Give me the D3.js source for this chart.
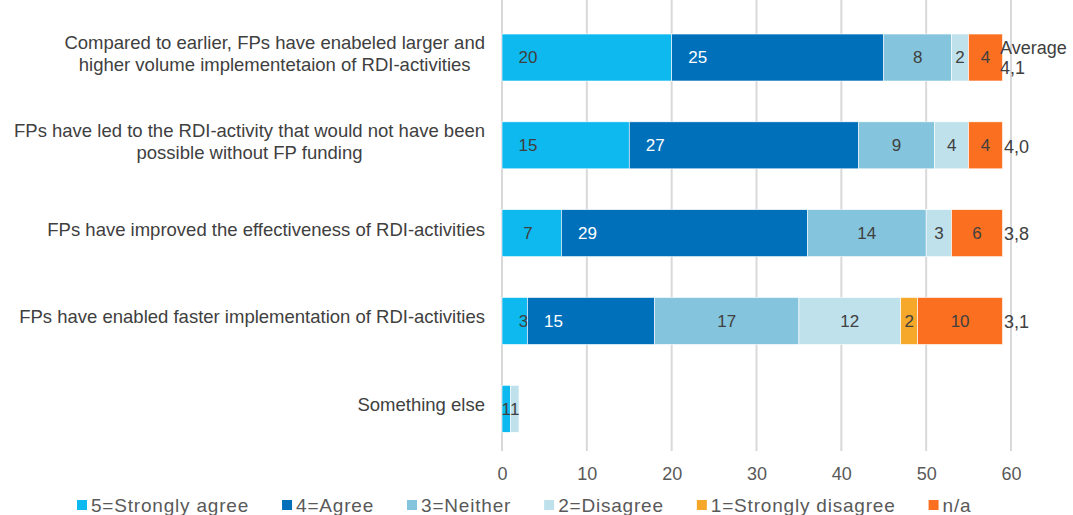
<!DOCTYPE html>
<html><head><meta charset="utf-8">
<script src="https://cdn.jsdelivr.net/npm/d3@7"></script>
<style>
html,body{margin:0;padding:0;background:#fff;}
svg{display:block;font-family:"Liberation Sans",Arial,sans-serif;}
</style></head>
<body><svg id="c" width="1073" height="515"></svg>
<script>
const categories = [
  ["Compared to earlier, FPs have enabeled larger and", "higher volume implementetaion of RDI-activities"],
  ["FPs have led to the RDI-activity that would not have been", "possible without FP funding"],
  ["FPs have improved the effectiveness of RDI-activities"],
  ["FPs have enabled faster implementation of RDI-activities"],
  ["Something else"]
];
const seriesNames = ["5=Strongly agree","4=Agree","3=Neither","2=Disagree","1=Strongly disagree","n/a"];
const stronglyAgree = [20,15,7,3,1];
const agree = [25,27,29,15,0];
const neither = [8,9,14,17,0];
const disagree = [2,4,3,12,1];
const stronglyDisagree = [0,0,0,2,0];
const notApplicable = [4,4,6,10,0];
const averages = [["Average","4,1"],["4,0"],["3,8"],["3,1"],[]];
const xTicks = [0,10,20,30,40,50,60];
const colors = ["#0DB9EE","#0070BA","#84C4DC","#BEE1EC","#F5A82A","#FA7020"];
const labelColors = ["#404040","#ffffff","#404040","#404040","#404040","#404040"];

const seriesValues = [stronglyAgree, agree, neither, disagree, stronglyDisagree, notApplicable];
const rows = categories.map((c,i)=>{const o={idx:i}; seriesValues.forEach((s,j)=>o["s"+j]=s[i]); return o;});
const keys = seriesValues.map((_,j)=>"s"+j);
const stacked = d3.stack().keys(keys)(rows);

const svg = d3.select("#c");
const x = d3.scaleLinear().domain([0,60]).range([502,1011]);
const y = d3.scaleBand().domain(d3.range(categories.length)).range([13.6,452.7]).paddingInner(0.465).paddingOuter(0.2325);

// gridlines
svg.append("g").selectAll("line").data(xTicks).join("line")
  .attr("x1",d=>x(d)).attr("x2",d=>x(d)).attr("y1",0).attr("y2",451)
  .attr("stroke","#d9d9d9").attr("stroke-width",2);

// axis labels
const xAxis = d3.axisBottom(x).tickValues(xTicks).tickSize(0).tickPadding(0);
const ax = svg.append("g").attr("transform","translate(0,467)").call(xAxis);
ax.select(".domain").remove();
ax.selectAll("text").attr("font-size",18).attr("fill","#595959").attr("font-family","Liberation Sans, Arial, sans-serif");

// bars
const g = svg.append("g");
stacked.forEach((layer,j)=>{
  g.append("g").selectAll("rect").data(layer.filter(d=>d[1]-d[0]>0)).join("rect")
    .attr("x",d=>x(d[0])).attr("width",d=>x(d[1])-x(d[0]))
    .attr("y",d=>y(d.data.idx)).attr("height",y.bandwidth())
    .attr("fill",colors[j]).attr("stroke","#ffffff").attr("stroke-width",0.6);
  g.append("g").selectAll("text").data(layer.filter(d=>d[1]-d[0]>0)).join("text")
    .attr("x",d=>{
      const x0=x(d[0]), w=x(d[1])-x(d[0]);
      if (j<2 && w>12) return x0+Math.min(26,w-4);
      return x0+w/2;
    })
    .attr("y",d=>y(d.data.idx)+y.bandwidth()/2)
    .attr("dy","0.35em").attr("text-anchor","middle")
    .attr("font-size",17).attr("fill",labelColors[j])
    .text(d=>d[1]-d[0]);
});

// category labels
categories.forEach((lines,i)=>{
  const cy = y(i)+y.bandwidth()/2 - 4;
  const t = svg.append("text").attr("font-size",18.5).attr("fill","#404040").attr("text-anchor","middle");
  const n = lines.length;
  const ts = lines.map((l,k)=>t.append("tspan").attr("y",cy + (k-(n-1)/2)*21.5).attr("dy","0.35em").text(l));
  const maxW = d3.max(ts, s=>s.node().getComputedTextLength());
  ts.forEach(s=>s.attr("x",485-maxW/2));
});

// averages
averages.forEach((lines,i)=>{
  if(!lines.length) return;
  const cy = y(i)+y.bandwidth()/2;
  const n = lines.length;
  const offs = [0,2,2,2,8];
  lines.forEach((l,k)=>{
    svg.append("text").attr("x",(n>1?1000:1002+offs[i])).attr("y",n>1? cy-10+k*20 : cy+1)
      .attr("dy","0.35em").attr("font-size",18).attr("fill","#404040").text(l);
  });
});

// legend
const leg = svg.append("g").attr("transform","translate(77,505)");
let lx = 0;
seriesNames.forEach((s,j)=>{
  leg.append("rect").attr("x",lx).attr("y",-5).attr("width",10).attr("height",10).attr("fill",colors[j]);
  const t = leg.append("text").attr("x",lx+14).attr("y",0).attr("dy","0.35em")
    .attr("font-size",19).attr("letter-spacing","0.8px").attr("fill","#595959").text(s);
  lx += 14 + t.node().getComputedTextLength() + 33;
});
</script>
</body></html>
